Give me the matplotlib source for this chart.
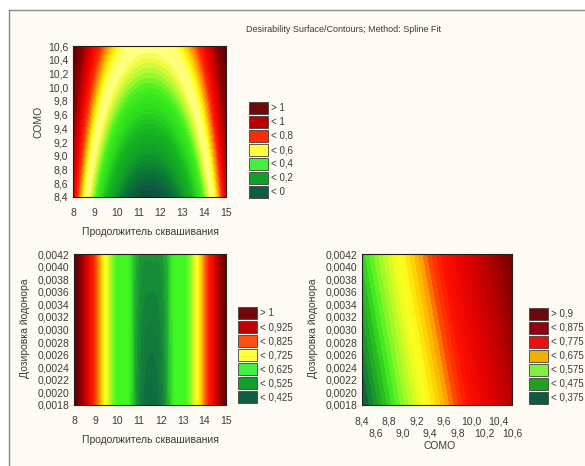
import numpy as np
import matplotlib
matplotlib.use("Agg")
import matplotlib.pyplot as plt
from matplotlib.colors import LinearSegmentedColormap, Normalize
from matplotlib.patches import Rectangle
from matplotlib.lines import Line2D

plt.rcParams['font.family'] = ['Liberation Sans', 'DejaVu Sans']

W, H, DPI = 585, 466, 100

# ---------------- data ----------------
title = "Desirability Surface/Contours; Method: Spline Fit"
time_label = "Продолжитель сквашивания"
somo_label = "СОМО"
dose_label = "Дозировка йодонора"

time_range = [8, 15]
somo_range = [8.4, 10.6]
dose_range = [0.0018, 0.0042]

time_ticks = [8, 9, 10, 11, 12, 13, 14, 15]
time_ticklabels = ["8", "9", "10", "11", "12", "13", "14", "15"]
somo_ticks = [8.4, 8.6, 8.8, 9.0, 9.2, 9.4, 9.6, 9.8, 10.0, 10.2, 10.4, 10.6]
somo_ticklabels = ["8,4", "8,6", "8,8", "9,0", "9,2", "9,4", "9,6", "9,8",
                   "10,0", "10,2", "10,4", "10,6"]
dose_ticks = [0.0018, 0.0020, 0.0022, 0.0024, 0.0026, 0.0028, 0.0030,
              0.0032, 0.0034, 0.0036, 0.0038, 0.0040, 0.0042]
dose_ticklabels = ["0,0018", "0,0020", "0,0022", "0,0024", "0,0026", "0,0028",
                   "0,0030", "0,0032", "0,0034", "0,0036", "0,0038", "0,0040",
                   "0,0042"]

top_coef = [-0.05, 0.27, 0.065, -0.01, 0.001, 11.5]   # c0, c_somo, k0, k_somo, k4, centre
bl_coef = [0.445, 0.02, 0.045, 0.0005, 11.55, 0.6]    # c0, c_dose, k2, k4, centre, width
br_coef = [0.36, 0.229, 0.09]                         # c0, c_somo, c_dose

# colour ramps (value, colour)
top_ramp_vals = [-0.08, -0.01, 0.05, 0.12, 0.22, 0.30, 0.38, 0.44, 0.49, 0.53,
                 0.59, 0.63, 0.68, 0.73, 0.79, 0.88, 0.97, 1.03, 1.15, 1.25]
top_ramp_cols = ["#0a4535", "#0d5a40", "#0b7535", "#0f9a2a", "#18b820", "#2cdc1c",
                 "#44f020", "#a8f830", "#f0fb40", "#ffff80", "#ffff70", "#ffff20",
                 "#ffd000", "#ff8000", "#ff2800", "#f00000", "#c00000", "#900000",
                 "#700000", "#600000"]
bl_ramp_vals = [0.42, 0.445, 0.46, 0.47, 0.485, 0.50, 0.56, 0.60, 0.63, 0.66, 0.70,
                0.74, 0.79, 0.88, 0.95, 1.05, 1.12]
bl_ramp_cols = ["#0e5a40", "#0f6a40", "#158838", "#20a832", "#34e02a", "#40f820",
                "#40f820", "#80fa20", "#e0fa20", "#ffff20", "#ffd000", "#ff7000",
                "#ff2000", "#e00000", "#a00000", "#650000", "#580000"]
br_ramp_vals = [0.34, 0.37, 0.40, 0.44, 0.47, 0.51, 0.55, 0.58, 0.62, 0.65,
                0.68, 0.72, 0.80, 0.88, 0.96]
br_ramp_cols = ["#0a4a38", "#105a40", "#18902c", "#28c020", "#48f020", "#a0f828",
                "#e8fc20", "#ffff20", "#ffd000", "#ff9800", "#ff4000", "#ff1000",
                "#e00000", "#b00000", "#700000"]

# legends
top_leg_labels = ["> 1", "< 1", "< 0,8", "< 0,6", "< 0,4", "< 0,2", "< 0"]
top_leg_cols = ["#6e0a0a", "#b80000", "#ff2a00", "#ffff40", "#44f040", "#10a028", "#0f5e42"]
bl_leg_labels = ["> 1", "< 0,925", "< 0,825", "< 0,725", "< 0,625", "< 0,525", "< 0,425"]
bl_leg_cols = ["#700a0a", "#c00000", "#ff5010", "#ffff40", "#40f040", "#10a030", "#0f5e42"]
br_leg_labels = ["> 0,9", "< 0,875", "< 0,775", "< 0,675", "< 0,575", "< 0,475", "< 0,375"]
br_leg_cols = ["#6a0a10", "#900010", "#e81010", "#f0b000", "#80f040", "#20a020", "#105a40"]

TXT = "#3a3a3a"
FS = 7
FS_TICK = 7.5
FS_LAB = 7.5
FS_TITLE = 6.5


def fx(px):
    return px / W


def fy(py):
    return 1 - py / H


def make_cmap(vals, cols):
    v0, v1 = vals[0], vals[-1]
    pos = [(v - v0) / (v1 - v0) for v in vals]
    return LinearSegmentedColormap.from_list("c", list(zip(pos, cols))), Normalize(v0, v1)


def surf_top(X, Y):
    c0, cy, k0, ky, k4, xc = top_coef
    u = Y - somo_range[0]
    d = X - xc
    return c0 + cy * u + (k0 + ky * u) * d ** 2 + k4 * d ** 4


def surf_bl(X, Y):
    c0, cyy, k2, k4, xc, wd = bl_coef
    t = (Y - dose_range[0]) / (dose_range[1] - dose_range[0])
    d = X - xc
    return c0 + cyy * t * np.exp(-(d / wd) ** 2) + k2 * d ** 2 + k4 * d ** 4


def surf_br(X, Y):
    c0, cx, cyy = br_coef
    t = (Y - dose_range[0]) / (dose_range[1] - dose_range[0])
    return c0 + cx * (X - somo_range[0]) + cyy * t


fig = plt.figure(figsize=(W / DPI, H / DPI), dpi=DPI, facecolor="white")

# frame
fig.add_artist(Rectangle((fx(9), 0), 1 - fx(9), fy(10), transform=fig.transFigure,
                         facecolor="#fdfbf3", edgecolor="none", zorder=0))
fig.add_artist(Line2D([fx(9), 1], [fy(10), fy(10)], transform=fig.transFigure,
                      color="#8a8a8a", lw=1.0))
fig.add_artist(Line2D([fx(9), fx(9)], [0, fy(10)], transform=fig.transFigure,
                      color="#8a8a8a", lw=1.0))

fig.text(fx(343), fy(30), title, ha="center", va="center", fontsize=FS_TITLE, color=TXT)


def panel(box, xr, yr, func, ramp_vals, ramp_cols, step, xticks, xtl, yticks, ytl):
    l, r, t, b = box
    ax = fig.add_axes([fx(l), fy(b), fx(r) - fx(l), fy(t) - fy(b)])
    xs = np.linspace(xr[0], xr[1], 400)
    ys = np.linspace(yr[0], yr[1], 400)
    X, Y = np.meshgrid(xs, ys)
    Z = func(X, Y)
    cmap, norm = make_cmap(ramp_vals, ramp_cols)
    levels = np.arange(min(Z.min(), ramp_vals[0]) - step, Z.max() + 1.5 * step, step)
    ax.contourf(X, Y, Z, levels=levels, cmap=cmap, norm=norm)
    ax.set_xlim(xr)
    ax.set_ylim(yr)
    ax.set_xticks(xticks)
    ax.set_xticklabels(xtl)
    ax.set_yticks(yticks)
    ax.set_yticklabels(ytl)
    ax.tick_params(length=0, labelsize=FS_TICK, labelcolor=TXT)
    ax.tick_params(axis="x", pad=8)
    ax.tick_params(axis="y", pad=3.5)
    for s in ax.spines.values():
        s.set_color("#202020")
        s.set_linewidth(0.8)
    return ax


def legend(x0, y0, labels, cols):
    for i, (lab, c) in enumerate(zip(labels, cols)):
        top = y0 + i * 14
        fig.add_artist(Rectangle((fx(x0), fy(top + 12)), fx(19), 12 / H,
                                 transform=fig.transFigure, facecolor=c,
                                 edgecolor="#404040", lw=0.6))
        fig.text(fx(x0 + 22), fy(top + 6), lab, ha="left", va="center",
                 fontsize=FS, color=TXT)


# top panel
panel((73, 226, 46, 197), time_range, somo_range, surf_top, top_ramp_vals, top_ramp_cols,
      0.02, time_ticks, time_ticklabels, somo_ticks, somo_ticklabels)
fig.text(fx(150), fy(232), time_label, ha="center", va="center", fontsize=FS_LAB, color=TXT)
fig.text(fx(38), fy(122), somo_label, ha="center", va="center", rotation=90,
         fontsize=FS_LAB, color=TXT)
legend(249, 102, top_leg_labels, top_leg_cols)

# bottom-left panel
panel((74, 226, 254, 405), time_range, dose_range, surf_bl, bl_ramp_vals, bl_ramp_cols,
      0.004, time_ticks, time_ticklabels, dose_ticks, dose_ticklabels)
fig.text(fx(150), fy(440), time_label, ha="center", va="center", fontsize=FS_LAB, color=TXT)
fig.text(fx(25), fy(328), dose_label, ha="center", va="center", rotation=90,
         fontsize=FS_LAB, color=TXT)
legend(238, 307, bl_leg_labels, bl_leg_cols)

# bottom-right panel (staggered x tick labels)
ax_br = panel((362, 512, 254, 405), somo_range, dose_range, surf_br, br_ramp_vals,
              br_ramp_cols, 0.015, somo_ticks[0::2], somo_ticklabels[0::2],
              dose_ticks, dose_ticklabels)
ax_br.set_xticks(somo_ticks[1::2], minor=True)
ax_br.set_xticklabels(somo_ticklabels[1::2], minor=True)
ax_br.tick_params(axis="x", which="minor", length=0, labelsize=FS_TICK,
                  labelcolor=TXT, pad=17)
fig.text(fx(440), fy(446), somo_label, ha="center", va="center", fontsize=FS_LAB, color=TXT)
fig.text(fx(313), fy(328), dose_label, ha="center", va="center", rotation=90,
         fontsize=FS_LAB, color=TXT)
legend(529, 308, br_leg_labels, br_leg_cols)

fig.savefig("out.png", dpi=DPI, facecolor="white")
